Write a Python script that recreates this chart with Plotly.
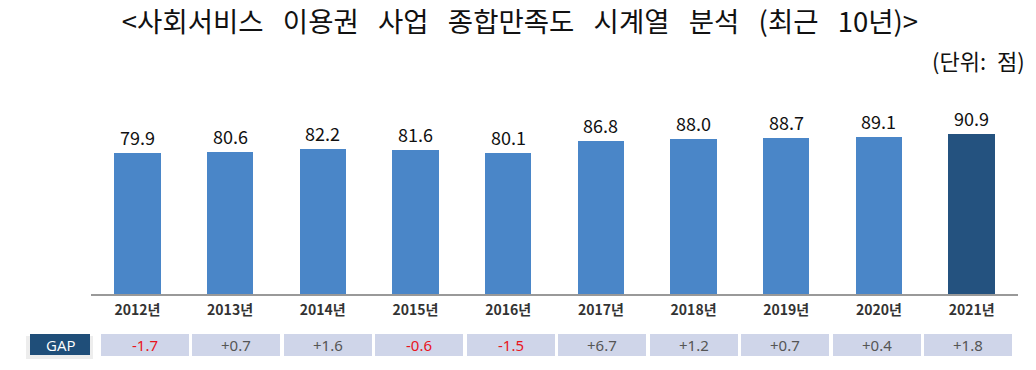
import plotly.graph_objects as go

years = ["2012년", "2013년", "2014년", "2015년", "2016년", "2017년", "2018년", "2019년", "2020년", "2021년"]
scores = [79.9, 80.6, 82.2, 81.6, 80.1, 86.8, 88.0, 88.7, 89.1, 90.9]
gaps = [-1.7, 0.7, 1.6, -0.6, -1.5, 6.7, 1.2, 0.7, 0.4, 1.8]

SP = "\u2002\u2009"
title_text = SP.join(["<사회서비스", "이용권", "사업", "종합만족도", "시계열", "분석", "(최근", "10년)>"])
unit_text = "(단위:\u2002점)"

W, H = 1036, 370
ML, MR, MT, MB = 20, 18, 117, 10
PW = W - ML - MR
PH = H - MT - MB

def px_x(x):
    return (x - ML) / PW

def px_y(y):
    return (H - MB - y) / PH

KR = "Noto Sans CJK KR"
NUM = "Noto Sans, Noto Sans CJK KR, sans-serif"

bar_colors = ["#4a86c8"] * (len(years) - 1) + ["#24527f"]
gap_text = [f"{g:+.1f}" for g in gaps]
gap_colors = ["#e8141e" if g < 0 else "#555555" for g in gaps]

fig = go.Figure()
fig.add_trace(go.Bar(
    x=years, y=scores, marker=dict(color=bar_colors, line=dict(width=0)),
    width=0.5, xaxis="x", yaxis="y", hoverinfo="x+y", showlegend=False,
))
fig.add_trace(go.Bar(
    x=years, y=[1] * len(years), marker=dict(color="#cfd5e9", line=dict(width=0)),
    width=0.967, xaxis="x2", yaxis="y2", hovertext=gap_text,
    hoverinfo="text", showlegend=False,
))

annotations = []
for yr, v in zip(years, scores):
    annotations.append(dict(
        x=yr, y=v, xref="x", yref="y", text=f"{v:.1f}", showarrow=False,
        yanchor="bottom", yshift=1, font=dict(size=18, color="#111111", family=KR),
    ))
for yr, t, c in zip(years, gap_text, gap_colors):
    annotations.append(dict(
        x=yr, y=0.5, xref="x2", yref="y2", text=t, showarrow=False,
        xanchor="center", yanchor="middle", font=dict(size=15, color=c, family=NUM),
    ))
annotations.append(dict(
    x=px_x(1027), y=px_y(60), xref="paper", yref="paper", text=unit_text,
    showarrow=False, xanchor="right", yanchor="middle",
    font=dict(size=22, color="#111111", family=KR),
))
annotations.append(dict(
    x=px_x(60), y=px_y(344.5), xref="paper", yref="paper", text="GAP",
    showarrow=False, xanchor="center", yanchor="middle",
    font=dict(size=15, color="#ffffff", family="Open Sans"),
))

shapes = [
    dict(type="rect", xref="paper", yref="paper",
         x0=px_x(26), x1=px_x(93), y0=px_y(359), y1=px_y(336),
         fillcolor="rgba(0,0,0,0.07)", line=dict(width=0), layer="below"),
    dict(type="rect", xref="paper", yref="paper",
         x0=px_x(30), x1=px_x(90), y0=px_y(355), y1=px_y(334),
         fillcolor="#1f4e79", line=dict(width=0)),
]

fig.update_layout(
    width=W, height=H,
    margin=dict(l=ML, r=MR, t=MT, b=MB),
    paper_bgcolor="white", plot_bgcolor="white",
    title=dict(text=title_text, xref="container", yref="container",
               x=520 / W, y=1 - 22 / H, xanchor="center", yanchor="middle",
               font=dict(size=27.5, color="#111111", family=KR)),
    xaxis=dict(domain=[px_x(91), 1.0], anchor="y", showline=True, linecolor="#999999",
               linewidth=1.5, showgrid=False, zeroline=False, ticks="",
               ticklabelstandoff=2,
               tickfont=dict(size=14, color="#333333", family=KR, weight="bold"),
               range=[-0.5, 9.5]),
    yaxis=dict(domain=[px_y(294), 1.0], range=[0, 100.5], visible=False),
    xaxis2=dict(domain=[px_x(99), px_x(1014)], anchor="y2", visible=False, range=[-0.5, 9.5]),
    yaxis2=dict(domain=[px_y(356), px_y(334)], range=[0, 1], visible=False),
    annotations=annotations, shapes=shapes, bargap=0,
)

fig.write_html("out.html", config={"displayModeBar": False},
               post_script="document.body.style.margin='0';document.body.style.overflow='hidden';")
